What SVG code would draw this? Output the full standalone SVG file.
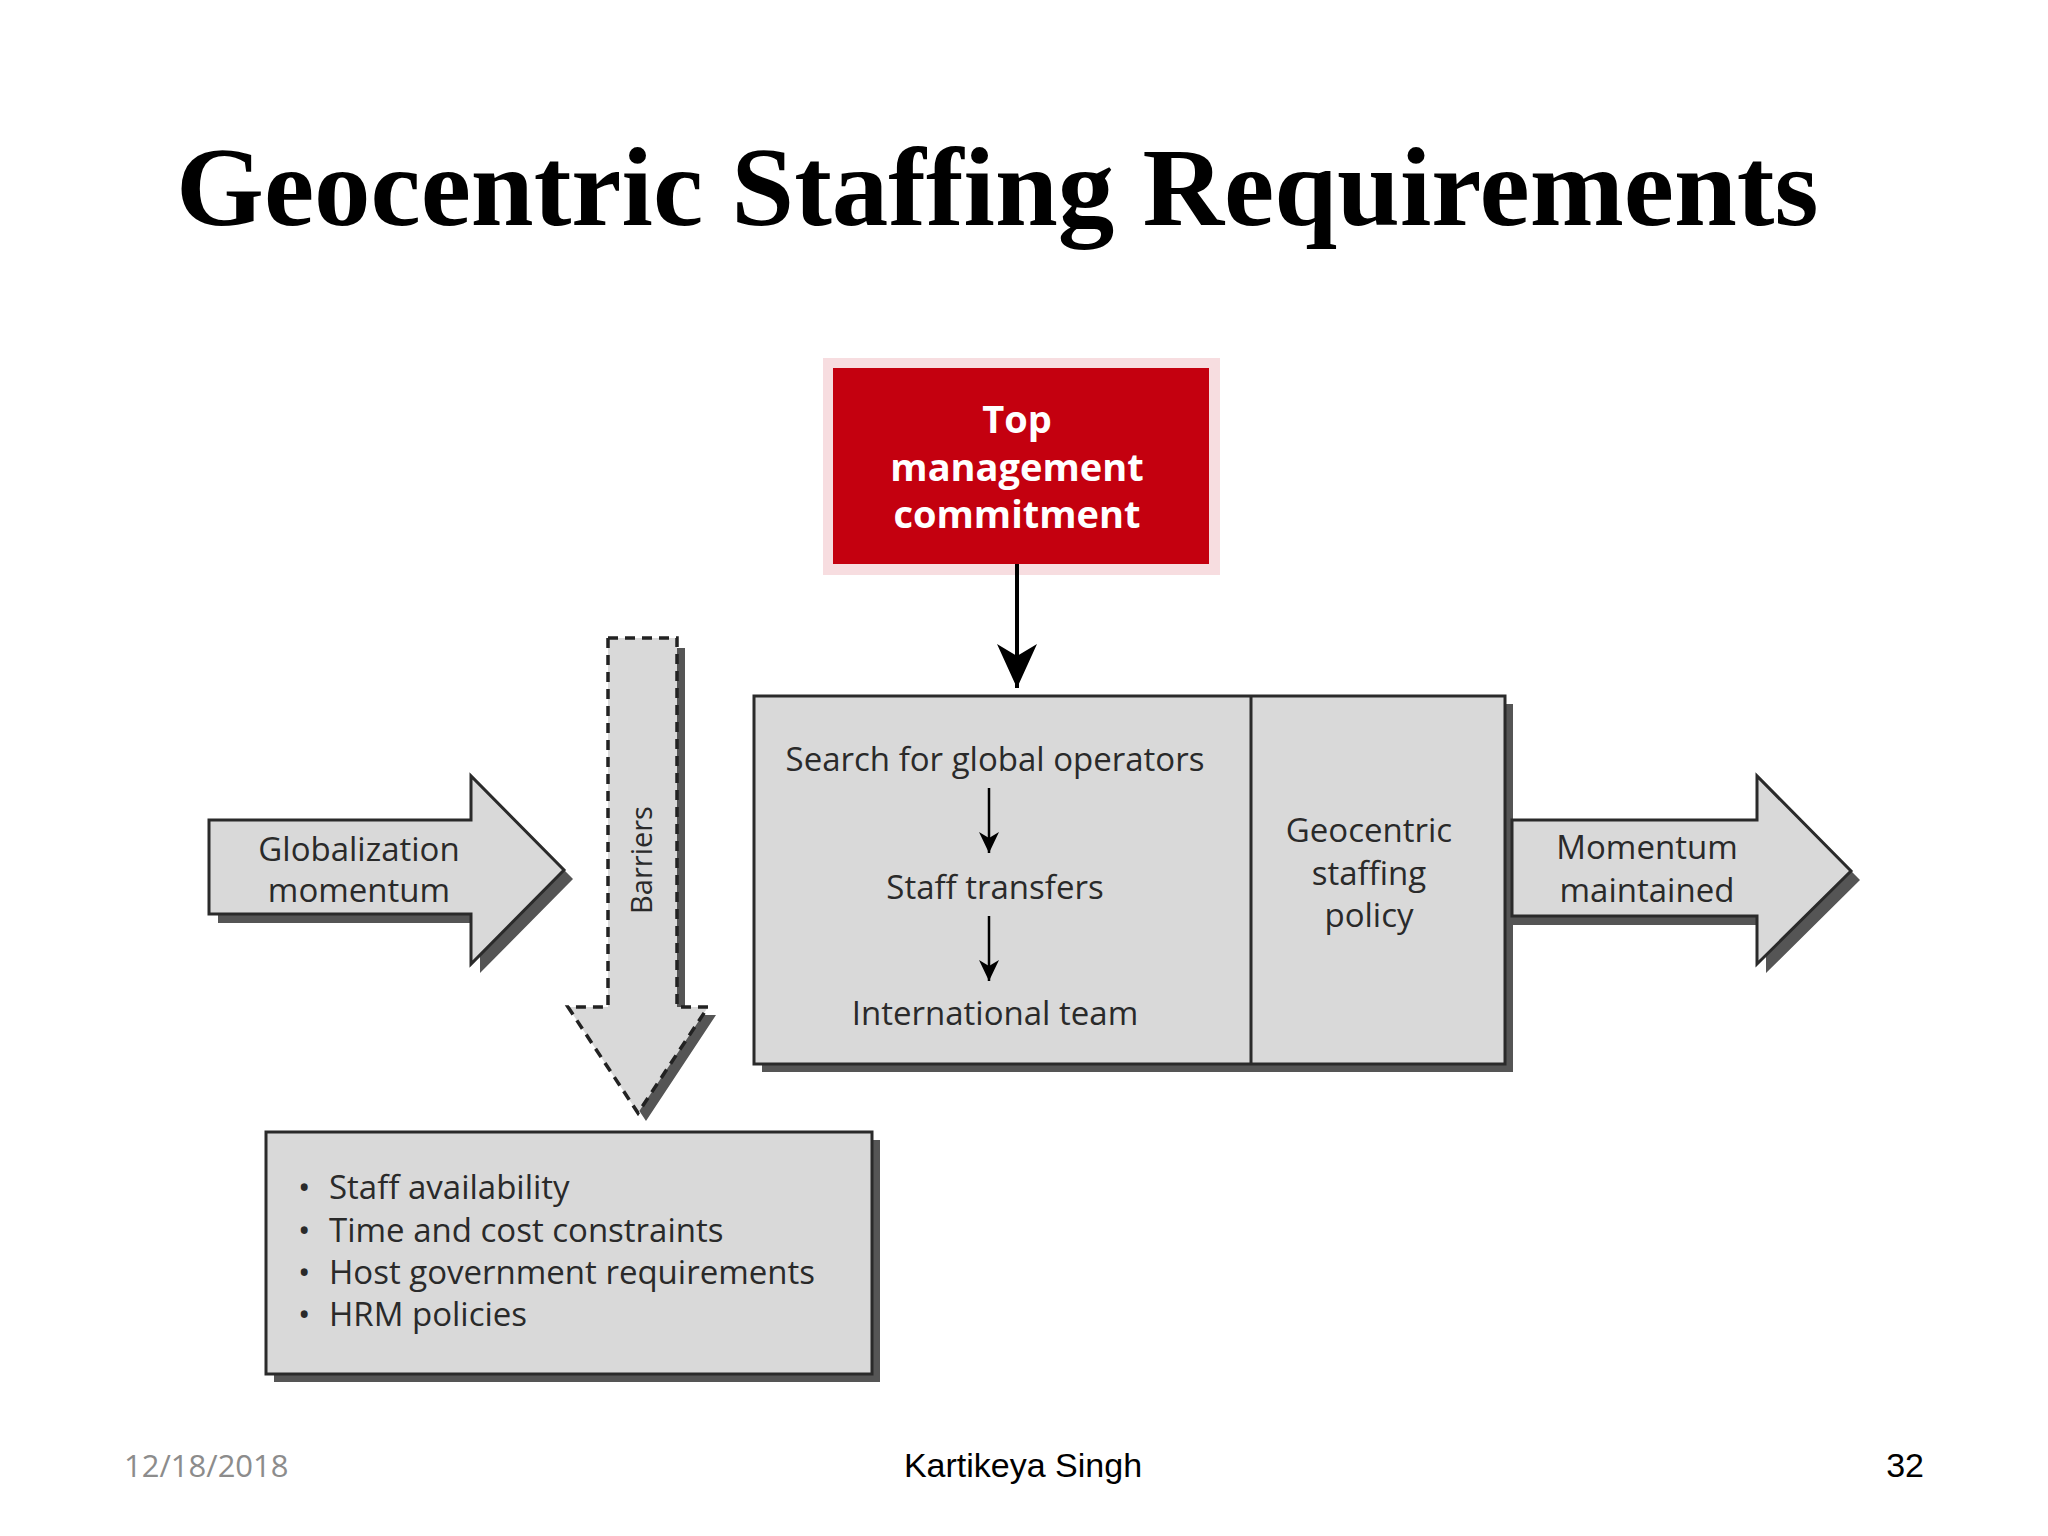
<svg xmlns="http://www.w3.org/2000/svg" width="2048" height="1536" viewBox="0 0 2048 1536">
<style>
.title{font-family:"Liberation Serif",serif;font-weight:bold;font-size:113px;fill:#000}
.lbl{font-family:"Open Sans","Noto Sans",sans-serif;font-size:33px;fill:#2a2a2a;text-anchor:middle}
.lbl-l{font-family:"Open Sans","Noto Sans",sans-serif;font-size:33px;fill:#2a2a2a}
.red-t{font-family:"Open Sans","Noto Sans",sans-serif;font-weight:bold;font-size:38px;fill:#fff;text-anchor:middle}
.panel{fill:#d9d9d9;stroke:#2a2a2a;stroke-width:3}
.shadow{fill:#555}
.dash{fill:#d9d9d9;stroke:#222;stroke-width:3.5;stroke-dasharray:10,7}
.conn{stroke:#000;fill:none}
.foot{font-family:"Liberation Sans",Arial,sans-serif;font-size:34px;fill:#000}
.date{font-family:"Open Sans","Noto Sans",sans-serif;font-size:31px;fill:#8c8c8c}
</style>
<defs>
<marker id="ah-big" markerUnits="userSpaceOnUse" markerWidth="50" markerHeight="50" viewBox="-46 -25 50 50" refX="0" refY="0" orient="auto">
<path d="M0,0 L-44,-20 L-32,0 L-44,20 Z" fill="#000"/>
</marker>
<marker id="ah-small" markerUnits="userSpaceOnUse" markerWidth="26" markerHeight="26" viewBox="-24 -13 26 26" refX="0" refY="0" orient="auto">
<path d="M0,0 L-21,-10 L-15,0 L-21,10 Z" fill="#000"/>
</marker>
</defs>
<rect x="0" y="0" width="2048" height="1536" fill="#fff"/>
<text class="title" x="176" y="225">Geocentric Staffing Requirements</text>

<g id="top-management">
<rect x="823" y="358" width="397" height="217" fill="#f7dde0"/>
<rect x="833" y="368" width="376" height="196" fill="#c4000f"/>
<text class="red-t" x="1017" y="433">Top</text>
<text class="red-t" x="1017" y="481">management</text>
<text class="red-t" x="1017" y="528">commitment</text>
</g>

<g id="globalization-momentum">
<polygon class="shadow" points="218,829 480,829 480,785 573,879 480,973 480,923 218,923"/>
<polygon class="panel" points="209,820 471,820 471,776 564,870 471,964 471,914 209,914"/>
<text class="lbl" x="359" y="861">Globalization</text>
<text class="lbl" x="359" y="902">momentum</text>
</g>

<g id="barriers">
<polygon class="shadow" points="616,648 685,648 685,1015 716,1015 646,1121 576,1015 616,1015"/>
<polygon class="dash" points="608,638 677,638 677,1007 708,1007 638,1113 568,1007 608,1007"/>
<text class="lbl" transform="translate(652,860) rotate(-90)" style="font-size:29px">Barriers</text>
</g>

<g id="staffing-process">
<rect class="shadow" x="762" y="704" width="751" height="368"/>
<rect class="panel" x="754" y="696" width="751" height="368"/>
<line x1="1251" y1="696" x2="1251" y2="1064" stroke="#2a2a2a" stroke-width="3"/>
<text class="lbl" x="995" y="771">Search for global operators</text>
<text class="lbl" x="995" y="899">Staff transfers</text>
<text class="lbl" x="995" y="1025">International team</text>
</g>

<g id="geocentric-policy">
<text class="lbl" x="1369" y="842">Geocentric</text>
<text class="lbl" x="1369" y="885">staffing</text>
<text class="lbl" x="1369" y="927">policy</text>
</g>

<g id="momentum-maintained">
<polygon class="shadow" points="1513,829 1766,829 1766,785 1860,880 1766,973 1766,925 1513,925"/>
<polygon class="panel" points="1512,820 1757,820 1757,776 1851,871 1757,964 1757,916 1512,916"/>
<text class="lbl" x="1647" y="859">Momentum</text>
<text class="lbl" x="1647" y="902">maintained</text>
</g>

<g id="barrier-list">
<rect class="shadow" x="274" y="1140" width="606" height="242"/>
<rect class="panel" x="266" y="1132" width="606" height="242"/>
<text class="lbl-l" x="298" y="1199">•</text>
<text class="lbl-l" x="329" y="1199">Staff availability</text>
<text class="lbl-l" x="298" y="1242">•</text>
<text class="lbl-l" x="329" y="1242">Time and cost constraints</text>
<text class="lbl-l" x="298" y="1284">•</text>
<text class="lbl-l" x="329" y="1284">Host government requirements</text>
<text class="lbl-l" x="298" y="1326">•</text>
<text class="lbl-l" x="329" y="1326">HRM policies</text>
</g>

<g id="connectors">
<line class="conn" x1="1017" y1="564" x2="1017" y2="688" stroke-width="4" marker-end="url(#ah-big)"/>
<line class="conn" x1="989" y1="788" x2="989" y2="853" stroke-width="2.5" marker-end="url(#ah-small)"/>
<line class="conn" x1="989" y1="916" x2="989" y2="981" stroke-width="2.5" marker-end="url(#ah-small)"/>
</g>

<text class="date" x="124" y="1477">12/18/2018</text>
<text class="foot" x="1023" y="1477" text-anchor="middle">Kartikeya Singh</text>
<text class="foot" x="1924" y="1477" text-anchor="end">32</text>
</svg>
